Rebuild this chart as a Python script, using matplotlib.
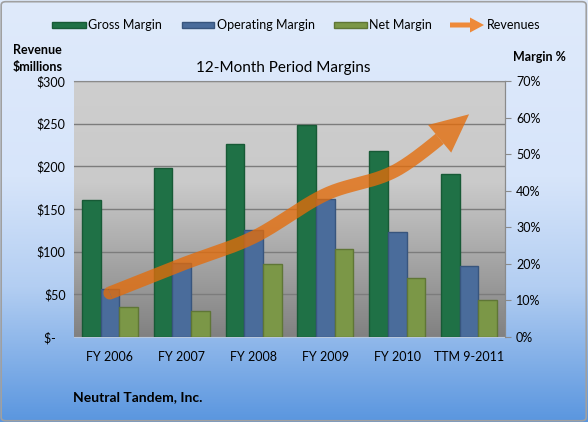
import numpy as np
import matplotlib
matplotlib.use('Agg')
import matplotlib.pyplot as plt
from matplotlib.colors import LinearSegmentedColormap
from matplotlib.patches import Rectangle, Polygon, Wedge, FancyBboxPatch, FancyArrow
from matplotlib.transforms import IdentityTransform
from matplotlib.lines import Line2D

# ---------------- data ----------------
categories = ['FY 2006', 'FY 2007', 'FY 2008', 'FY 2009', 'FY 2010', 'TTM 9-2011']
gross_margin = [37.5, 46.2, 52.8, 58.0, 50.9, 44.6]        # %
operating_margin = [13.1, 20.2, 29.3, 37.7, 28.7, 19.4]    # %
net_margin = [8.2, 7.1, 20.0, 24.1, 16.1, 10.1]            # %
revenues = [51.6, 85.0, 117.0, 167.0, 196.0, 261.0]        # $ millions
rev_ticks = [0, 50, 100, 150, 200, 250, 300]
rev_tick_labels = ['$-   ', '$50', '$100', '$150', '$200', '$250', '$300']
pct_ticks = [0, 10, 20, 30, 40, 50, 60, 70]
pct_tick_labels = ['0%', '10%', '20%', '30%', '40%', '50%', '60%', '70%']
series_names = ['Gross Margin', 'Operating Margin', 'Net Margin', 'Revenues']

plt.rcParams['font.family'] = ['Lato', 'DejaVu Sans']

W, H = 588, 422
fig = plt.figure(figsize=(W / 100, H / 100), dpi=100)
FS = 9


def fx(x):
    return x / W


def fy(y):
    return 1 - y / H


# ---------------- figure background ----------------
bg = fig.add_axes([0, 0, 1, 1], zorder=-10)
bg_cmap = LinearSegmentedColormap.from_list(
    'bg', [(0, '#DFEAFB'), (0.42, '#D7E5FA'), (0.68, '#B3CEF2'), (1, '#5A96DF')])
grad = np.linspace(0, 1, 256).reshape(-1, 1)
bg.imshow(grad, aspect='auto', cmap=bg_cmap, extent=[0, 1, 0, 1], origin='upper')
bg.set_xlim(0, 1)
bg.set_ylim(0, 1)
bg.axis('off')

border = FancyBboxPatch((0.002, 0.003), 0.995, 0.993,
                        boxstyle='round,pad=0,rounding_size=0.008',
                        transform=fig.transFigure, fill=False,
                        edgecolor='#A0A0A0', lw=1.2, zorder=20)
fig.add_artist(border)

# ---------------- main axes ----------------
ax = fig.add_axes([fx(74), fy(337), (505 - 74) / W, (337 - 81) / H])
ax.set_zorder(1)
plot_cmap = LinearSegmentedColormap.from_list(
    'plot', [(0, '#CECECE'), (0.40, '#CACACA'), (1, '#818181')])
ax.imshow(grad, aspect='auto', cmap=plot_cmap, extent=[-0.5, 5.5, 0, 300],
          origin='upper', zorder=0)
ax.set_xlim(-0.5, 5.5)
ax.set_ylim(0, 300)
for t in rev_ticks[1:]:
    ax.axhline(t, color='#7C7C7C', lw=1.0, zorder=1)
ax.set_yticks(rev_ticks)
ax.set_yticklabels(rev_tick_labels)
ax.tick_params(axis='y', length=0, pad=6, labelsize=FS, colors='black')
x = np.arange(len(categories))
ax.set_xticks(x)
ax.set_xticklabels(categories)
ax.tick_params(axis='x', length=0, pad=10, labelsize=FS)
ax.spines['left'].set_visible(False)
ax.spines['top'].set_color('#8A8A8A')
ax.spines['right'].set_color('#8A8A8A')
ax.spines['bottom'].set_color('#B8C8DC')

ax2 = ax.twinx()
ax2.set_ylim(0, 70)
ax2.set_xlim(-0.5, 5.5)
for s in ['left', 'top', 'bottom']:
    ax2.spines[s].set_visible(False)
ax2.spines['right'].set_color('#8A8A8A')
ax2.set_yticks(pct_ticks)
ax2.set_yticklabels(pct_tick_labels)
ax2.tick_params(axis='y', length=4, direction='out', color='#8A8A8A', pad=4, labelsize=FS)

bw = 0.26
face = ['#1F7146', '#4A6C9B', '#7B9747']
edge = ['#175A36', '#38557D', '#5F7636']
for i, vals in enumerate([gross_margin, operating_margin, net_margin]):
    ax2.bar(x + (i - 1) * bw, vals, width=bw, color=face[i], edgecolor=edge[i],
            linewidth=1.0, zorder=3)

# ---------------- revenue arrow ----------------
fig.canvas.draw()
pts = ax.transData.transform(np.column_stack([x, revenues]))


def catmull(P, n=40):
    P = np.asarray(P, dtype=float)
    ext = np.vstack([P[0], P, P[-1]])
    out = []
    t = np.linspace(0, 1, n, endpoint=False)[:, None]
    for i in range(1, len(ext) - 2):
        p0, p1, p2, p3 = ext[i - 1], ext[i], ext[i + 1], ext[i + 2]
        seg = 0.5 * ((2 * p1) + (-p0 + p2) * t + (2 * p0 - 5 * p1 + 4 * p2 - p3) * t ** 2
                     + (-p0 + 3 * p1 - 3 * p2 + p3) * t ** 3)
        out.append(seg)
    out.append(P[-1:])
    return np.vstack(out)


curve = catmull(pts)
orange = '#E46C0A'
alpha = 0.78
lw_px = 13
head_len, head_hw = 36, 18
tip = curve[-1]
dist = np.hypot(*(curve - tip).T)
idx = np.where(dist >= head_len)[0][-1]
base = curve[idx]
d = (tip - base) / np.hypot(*(tip - base))
nrm = np.array([-d[1], d[0]])
shaft = curve[:idx + 1]
line = Line2D(shaft[:, 0], shaft[:, 1], transform=IdentityTransform(),
              lw=lw_px * 72 / 100, color=orange, alpha=alpha,
              solid_capstyle='butt', solid_joinstyle='round', zorder=30)
fig.add_artist(line)
head = Polygon([tip, base + nrm * head_hw, base - nrm * head_hw], closed=True,
               transform=IdentityTransform(), facecolor=orange, edgecolor='none',
               alpha=alpha, zorder=30)
fig.add_artist(head)
d0 = curve[1] - curve[0]
a0 = np.degrees(np.arctan2(d0[1], d0[0]))
cap = Wedge(curve[0], lw_px / 2, a0 + 90, a0 + 270, transform=IdentityTransform(),
            facecolor=orange, edgecolor='none', alpha=alpha, zorder=30)
fig.add_artist(cap)

# ---------------- legend ----------------
ly = 25
for (x0, x1), fc, ec, name, tx in zip([(52, 86), (182, 214), (334, 367)], face, edge,
                                      series_names[:3], [88, 217, 369]):
    fig.add_artist(Rectangle((fx(x0), fy(ly + 3)), (x1 - x0) / W, 6 / H,
                             transform=fig.transFigure, facecolor=fc, edgecolor=ec, lw=1))
    fig.text(fx(tx), fy(ly), name, fontsize=FS, va='center', ha='left')
fig.add_artist(FancyArrow(450, H - ly, 34, 0, width=5, head_width=15, head_length=14,
                          length_includes_head=True, transform=IdentityTransform(),
                          facecolor='#EE8A3A', edgecolor='none'))
fig.text(fx(487), fy(ly), series_names[3], fontsize=FS, va='center', ha='left')

# ---------------- titles ----------------
fig.text(fx(13), fy(50), 'Revenue', fontsize=FS, fontweight='bold', va='center', ha='left')
fig.text(fx(13), fy(67), '$millions', fontsize=FS, fontweight='bold', va='center', ha='left')
fig.text(fx(513), fy(57), 'Margin %', fontsize=FS, fontweight='bold', va='center', ha='left')
fig.text(fx(283), fy(68), '12-Month Period Margins', fontsize=11, va='center', ha='center')
fig.text(fx(73), fy(397), 'Neutral Tandem, Inc.', fontsize=10, fontweight='bold',
         va='center', ha='left')

fig.savefig('out.png', dpi=100)
